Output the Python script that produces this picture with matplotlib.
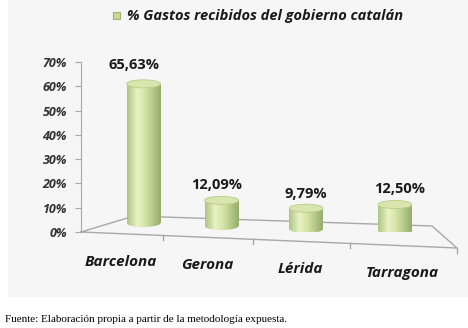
import numpy as np
import matplotlib
matplotlib.use("Agg")
import matplotlib.pyplot as plt
from matplotlib.colors import LinearSegmentedColormap
from matplotlib.patches import Ellipse, Rectangle

# datos
provincias = ["Barcelona", "Gerona", "Lérida", "Tarragona"]
gastos = [65.63, 12.09, 9.79, 12.50]
etiquetas = ["65,63%", "12,09%", "9,79%", "12,50%"]
ticks_y = [0, 10, 20, 30, 40, 50, 60, 70]
leyenda = "% Gastos recibidos del gobierno catalán"
fuente = "Fuente: Elaboración propia a partir de la metodología expuesta."

# posiciones (perspectiva aproximada)
xpos = [0.0, 0.93, 1.94, 3.0]
base = [4.25, 2.83, 1.42, 0.47]
ancho = 0.405
alto_elipse = 3.8
desp_etiq = [(-6.5, 11), (-3.5, 8), (0, 7), (3, 8)]   # puntos
x_etiq = [121, 207, 300, 402]   # pixeles
y_etiq = [262, 265, 269, 273]

W, H = 468, 328
FONT = ["Open Sans", "DejaVu Sans"]

fig = plt.figure(figsize=(W / 100, H / 100), dpi=100)
fig.patch.set_facecolor("white")

# capa de fondo en pixeles
fx = fig.add_axes([0, 0, 1, 1])
fx.set_xlim(0, W)
fx.set_ylim(H, 0)
fx.axis("off")
fx.add_patch(Rectangle((8, 0), W - 8, 297, facecolor="#f6f6f6", edgecolor="none"))

# suelo 3D
gris = "#a8a8a8"
fx.plot([81, 134, 432, 457, 81], [232, 216, 226, 248, 232], color=gris, lw=1)
for xt in [163, 253, 350, 457]:
    yt = 232 + (xt - 81) * 16 / 376
    fx.plot([xt, xt], [yt, yt + 5], color=gris, lw=1)

# leyenda
fx.add_patch(Rectangle((113, 12), 7, 7, facecolor="#c9da98", edgecolor="#9db46c", lw=0.8))
fx.text(127, 16, leyenda, fontsize=10.5, style="italic", fontweight="bold",
        family=FONT, color="#1a1a1a", va="center", ha="left")

for nombre, xe, ye in zip(provincias, x_etiq, y_etiq):
    fx.text(xe, ye, nombre, fontsize=11, style="italic", fontweight="bold",
            family=FONT, color="#1a1a1a", ha="center", va="center")

fx.text(5, 320, fuente, fontsize=8, family="Liberation Serif", color="black",
        va="center", ha="left")

# eje vertical
rect = [81 / W, (H - 232) / H, 376 / W, 170 / H]
ax = fig.add_axes(rect)
ax.patch.set_visible(False)
ax.set_ylim(0, 70)
ax.set_xlim(0, 1)
ax.set_yticks(ticks_y)
ax.set_yticklabels([f"{t}%" for t in ticks_y], fontsize=9, style="italic",
                   fontweight="bold", family=FONT, color="#333333")
ax.set_xticks([])
for s in ["top", "right", "bottom"]:
    ax.spines[s].set_visible(False)
ax.spines["left"].set_color(gris)
ax.tick_params(axis="y", length=4, color=gris, pad=6)

# cilindros
bx = fig.add_axes(rect)
bx.patch.set_visible(False)
bx.axis("off")
bx.set_xlim(-0.746, 3.74)
bx.set_ylim(0, 170 / 2.12)

cmap = LinearSegmentedColormap.from_list(
    "verde", [(0, "#b0c586"), (0.3, "#e9f3c4"), (0.55, "#d3e3a4"), (1, "#97ad6a")])
grad = np.linspace(0, 1, 64).reshape(1, -1)

barras = bx.bar(xpos, gastos, width=ancho, bottom=base, color="none", edgecolor="none")
for b, x, y0, v, txt, d in zip(barras, xpos, base, gastos, etiquetas, desp_etiq):
    x0 = x - ancho / 2
    fondo = Ellipse((x, y0), ancho, alto_elipse, facecolor="none", edgecolor="none")
    bx.add_patch(fondo)
    for clip in (b, fondo):
        im = bx.imshow(grad, cmap=cmap, aspect="auto", interpolation="bicubic",
                       extent=[x0, x0 + ancho, y0 - alto_elipse, y0 + v], zorder=2)
        im.set_clip_path(clip)
    bx.add_patch(Ellipse((x, y0 + v), ancho, alto_elipse, facecolor="#d8e6ad",
                         edgecolor="#b9cd8a", lw=0.6, zorder=3))
    bx.annotate(txt, (x, y0 + v + alto_elipse / 2), xytext=d,
                textcoords="offset points", ha="center", va="center",
                fontsize=10.5, fontweight="bold", family=FONT, color="#1a1a1a")

bx.set_xlim(-0.746, 3.74)
bx.set_ylim(0, 170 / 2.12)

fig.savefig("out.png", dpi=100)
